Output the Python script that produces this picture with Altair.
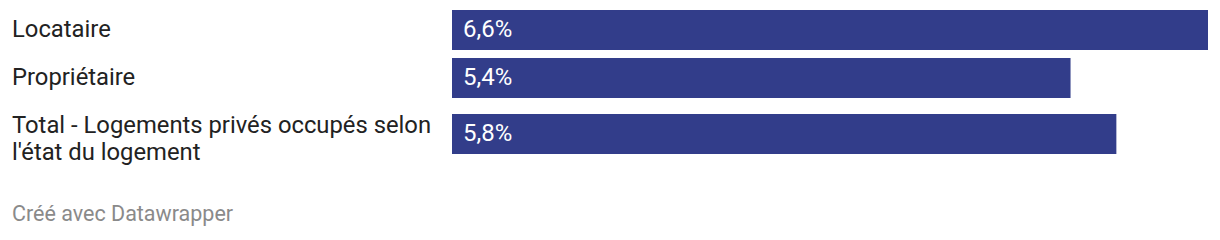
import altair as alt
import pandas as pd

# Categories (with manual line breaks) and their values in percent
categories = ["Locataire", "Propriétaire", "Total - Logements privés occupés selon\nl'état du logement"]
values = [6.6, 5.4, 5.8]

# Row layout: bar height, gap between rows, label line metrics
BAR_H = 40
GAP = 8
ROW_LINE_H = 28
LINE_SP = 26.5
FIRST_LINE = 20
TOP = 10

rows = []
label_rows = []
top = TOP
for cat, v in zip(categories, values):
    lines = cat.split("\n")
    h = max(BAR_H, len(lines) * ROW_LINE_H)
    c = top + h / 2
    rows.append({
        "cat": cat, "value": v, "center": c,
        "y0": c - BAR_H / 2, "y1": c + BAR_H / 2,
        "label": f"{v:.1f}".replace(".", ",") + "%",
    })
    for i, line in enumerate(lines):
        label_rows.append({"line": line, "ly": top + FIRST_LINE + i * LINE_SP})
    top += h + GAP

df = pd.DataFrame(rows)
df_lab = pd.DataFrame(label_rows)

BLUE = "#323d8a"
LEFT = 452
PLOT_W = 756
H = 240

yscale = alt.Scale(domain=[0, H], range=[0, H], nice=False, zero=False)

bars = alt.Chart(df).mark_bar(color=BLUE, cornerRadius=0).encode(
    x=alt.X("value:Q", scale=alt.Scale(domain=[0, max(values)], nice=False), axis=None),
    x2=alt.value(0),
    y=alt.Y("y0:Q", scale=yscale, axis=None),
    y2="y1:Q",
)

values_text = alt.Chart(df).mark_text(
    align="left", baseline="middle", color="white", font="Roboto", fontSize=24, dx=11
).encode(
    x=alt.value(0),
    y=alt.Y("center:Q", scale=yscale, axis=None),
    text="label:N",
)

cat_text = alt.Chart(df_lab).mark_text(
    align="left", baseline="middle", color="#222222", font="Roboto", fontSize=23.8,
).encode(
    x=alt.value(12 - LEFT),
    y=alt.Y("ly:Q", scale=yscale, axis=None),
    text="line:N",
)

footer = alt.Chart(pd.DataFrame({"t": ["Créé avec Datawrapper"]})).mark_text(
    align="left", baseline="middle", color="#8a8a8a", font="Roboto", fontSize=21.5
).encode(
    x=alt.value(12 - LEFT),
    y=alt.value(215),
    text="t:N",
)

chart = alt.layer(bars, values_text, cat_text, footer).properties(
    width=PLOT_W,
    height=H,
    autosize=alt.AutoSizeParams(type="none"),
    padding={"left": LEFT, "top": 0, "right": 0, "bottom": 0},
    background="white",
).configure_view(stroke=None)

chart.save("out.html", embed_options={"renderer": "svg", "actions": False})
